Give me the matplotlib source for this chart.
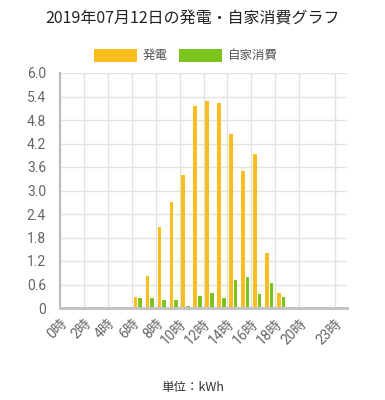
"""
hourly generation / self-consumption bar chart for 2019-07-12
"""
import numpy as np
import matplotlib
matplotlib.use('Agg')
from matplotlib import pyplot as plt

hours = list(range(24))
generation = [0, 0, 0, 0, 0, 0, 0.29, 0.82, 2.07, 2.71, 3.40, 5.17,
              5.29, 5.23, 4.44, 3.51, 3.94, 1.41, 0.39, 0.02, 0, 0, 0, 0]
self_use = [0, 0, 0, 0, 0, 0, 0.25, 0.25, 0.21, 0.21, 0.04, 0.31,
            0.39, 0.26, 0.72, 0.80, 0.37, 0.65, 0.29, 0.02, 0, 0, 0, 0]
tick_hours = [0, 2, 4, 6, 8, 10, 12, 14, 16, 18, 20, 23]
y_ticks = [0, 0.6, 1.2, 1.8, 2.4, 3.0, 3.6, 4.2, 4.8, 5.4, 6.0]

orange = '#F9BE1E'
green = '#7DC31E'
jp = ['Noto Sans CJK JP', 'DejaVu Sans']
num = ['Roboto', 'Noto Sans CJK JP', 'DejaVu Sans']

fig = plt.figure(figsize=(3.85, 4.0), dpi=100)
ax = fig.add_axes([60 / 385, 1 - 308 / 400, 287 / 385, 235 / 400])

x = np.array(hours)
ax.bar(x + 0.3, generation, width=0.28, color=orange, label='発電', zorder=3)
ax.bar(x + 0.7, self_use, width=0.28, color=green, label='自家消費', zorder=3)

ax.set_xlim(0, 24)
ax.set_ylim(0, 6.0)
ax.set_yticks(y_ticks)
ax.set_yticklabels(['0'] + [f'{v:.1f}' for v in y_ticks[1:]], family=num,
                   fontsize=10, color='#666666')
ax.set_xticks(tick_hours)
ax.set_xticklabels([f'{h}時' for h in tick_hours], family=num, fontsize=10,
                   color='#666666', rotation=45, ha='right',
                   rotation_mode='anchor')
ax.tick_params(axis='both', length=0)
ax.tick_params(axis='y', pad=10)
ax.tick_params(axis='x', pad=6)

ax.grid(True, color='#e2e2e2', linewidth=1, zorder=0)
for side in ['top', 'right']:
    ax.spines[side].set_visible(False)
ax.spines['left'].set_color('#bbbbbb')
ax.spines['left'].set_linewidth(1.5)
ax.spines['bottom'].set_color('#c4c4c4')
ax.spines['bottom'].set_linewidth(2.2)
ax.spines['bottom'].set_zorder(4)

fig.text(0.5, 1 - 18 / 400, '2019年07月12日の発電・自家消費グラフ', family=jp,
         fontsize=11.5, ha='center', va='center', color='#222222')

leg = fig.legend(loc='center', bbox_to_anchor=(186 / 385, 1 - 55.5 / 400),
                 ncol=2, frameon=False, handlelength=3.4, handleheight=1.2,
                 handletextpad=0.5, columnspacing=0.9,
                 prop={'family': jp, 'size': 9})
for t in leg.get_texts():
    t.set_color('#555555')

fig.text(193 / 385, 1 - 387 / 400, '単位：kWh', family=jp, fontsize=9,
         ha='center', va='center', color='#333333')

plt.savefig('out.png', dpi=100)
